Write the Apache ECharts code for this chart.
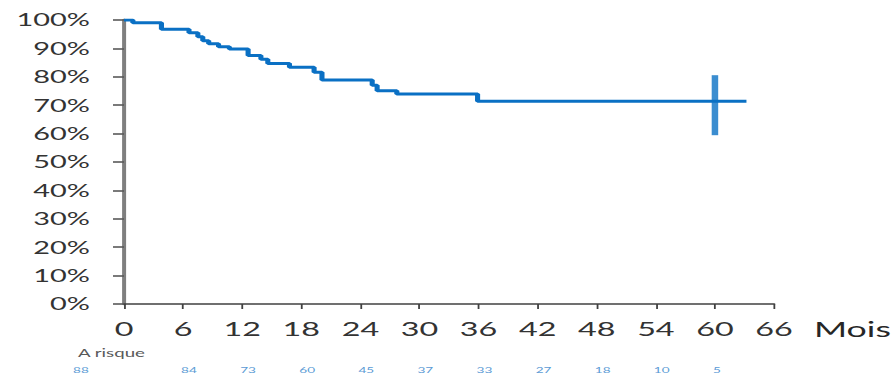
<!DOCTYPE html>
<html>
<head>
<meta charset="utf-8">
<script src="https://cdn.jsdelivr.net/npm/echarts@6/dist/echarts.min.js"></script>
<style>
  html, body { margin: 0; padding: 0; background: #ffffff; overflow: hidden; }
  #wrap { width: 896px; height: 378px; overflow: hidden; }
  #chart { height: 378px; transform-origin: 0 0; }
</style>
</head>
<body>
<div id="wrap"><div id="chart"></div></div>
<script>
// ---- data ----
const months   = [0, 0.9, 3.8, 6.6, 7.5, 8.0, 8.6, 9.6, 10.7, 12.6, 13.9, 14.6, 16.8, 19.3, 20.1, 25.2, 25.7, 27.7, 35.9, 63.2];
const survival = [100, 99.0, 96.7, 95.5, 94.1, 92.7, 91.6, 90.6, 89.8, 87.5, 86.2, 84.7, 83.4, 81.6, 78.9, 77.0, 75.1, 73.9, 71.4, 71.4];
const censorMonths = [60];
const censorValues = [70];
const atRiskMonths = [0, 6, 12, 18, 24, 30, 36, 42, 48, 54, 60];
const atRiskCounts = [88, 84, 73, 60, 45, 37, 33, 27, 18, 10, 5];
const xTicks = [0, 6, 12, 18, 24, 30, 36, 42, 48, 54, 60, 66];
const yTicks = [0, 10, 20, 30, 40, 50, 60, 70, 80, 90, 100];
const atRiskTitle = 'A risque';
const xName = 'Mois';

// ---- layout (picture is horizontally stretched) ----
const S = 1.7;
const W = 896 / S;
const el = document.getElementById('chart');
el.style.width = W + 'px';
el.style.transform = 'scaleX(' + S + ')';

const FONT = 'Lato';
const chart = echarts.init(el, null, { renderer: 'svg', width: W, height: 378 });

const curve = months.map((m, i) => [m, survival[i]]);
const censors = censorMonths.map((m, i) => [m, censorValues[i]]);

chart.setOption({
  animation: false,
  backgroundColor: '#ffffff',
  grid: { left: 124 / S, right: (896 - 775) / S, top: 20, bottom: 74, containLabel: false },
  xAxis: {
    type: 'value',
    min: xTicks[0],
    max: xTicks[xTicks.length - 1],
    interval: xTicks[1] - xTicks[0],
    name: xName,
    nameLocation: 'end',
    nameGap: 40 / S,
    nameTextStyle: { fontFamily: FONT, fontSize: 21, color: '#262626', verticalAlign: 'top', align: 'left', padding: [14, 0, 0, 0] },
    axisLine: { show: true, lineStyle: { color: '#404040', width: 1.6 } },
    axisTick: { show: true, length: 5, lineStyle: { color: '#404040', width: 1.8 / S } },
    axisLabel: { fontFamily: FONT, fontSize: 19, color: '#333333', margin: 15 },
    splitLine: { show: false }
  },
  yAxis: {
    type: 'value',
    min: yTicks[0],
    max: yTicks[yTicks.length - 1],
    interval: yTicks[1] - yTicks[0],
    axisLine: { show: true, lineStyle: { color: '#7f7f7f', width: 4 / S } },
    axisTick: { show: true, length: 11 / S, lineStyle: { color: '#595959', width: 1.6 } },
    axisLabel: { fontFamily: FONT, fontSize: 17, color: '#333333', margin: 20, formatter: '{value}%' },
    splitLine: { show: false }
  },
  series: [
    {
      type: 'line',
      data: curve,
      step: 'end',
      showSymbol: false,
      lineStyle: { color: '#0a70c4', width: 3 },
      z: 3
    },
    {
      type: 'scatter',
      data: censors,
      symbol: 'rect',
      symbolSize: [6.5 / S, 60],
      itemStyle: { color: '#0a70c4' },
      z: 4
    }
  ]
});

// at-risk row placed through the x scale
const graphics = [];
const origin = chart.convertToPixel({ gridIndex: 0 }, [0, 0]);
graphics.push({
  type: 'text',
  left: 78 / S,
  top: 347,
  style: { text: atRiskTitle, fontFamily: FONT, fontSize: 11, fill: '#595959' }
});
atRiskMonths.forEach((m, i) => {
  const p = chart.convertToPixel({ gridIndex: 0 }, [m, 0]);
  const dx = i === 0 ? -51 / S : -2 / S;
  graphics.push({
    type: 'text',
    x: p[0] + dx,
    y: 366,
    style: { text: String(atRiskCounts[i]), fontFamily: FONT, fontSize: 8, fill: '#5b9bd5', align: 'left', verticalAlign: 'top' }
  });
});
chart.setOption({ graphic: graphics });
</script>
</body>
</html>
